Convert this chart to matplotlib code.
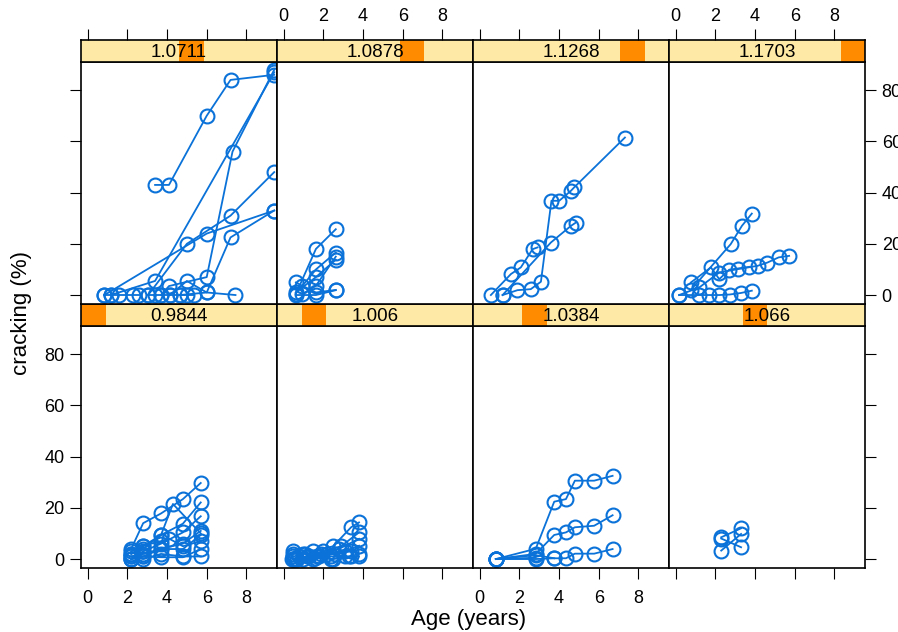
import numpy as np
import matplotlib.pyplot as plt
from matplotlib.patches import Rectangle

plt.rcParams['font.family'] = ['Liberation Sans', 'DejaVu Sans']

# shingle levels, panel order as lattice: bottom row left->right, then top row
levels = ['0.9844', '1.006', '1.0384', '1.066', '1.0711', '1.0878', '1.1268', '1.1703']
level_edges = [0, 1, 2, 3, 4, 5, 6, 7, 8]

# age (years) / cracking (%) per group, one list of paths per panel
ages_0984 = [[2.2, 2.8, 3.7, 4.8, 5.7], [2.2, 2.8, 3.7, 4.8, 5.7], [2.2, 2.8, 3.7, 4.8, 5.7],
             [2.2, 2.8, 3.7, 4.8, 5.7], [2.2, 2.8, 3.7, 4.8, 5.7], [2.2, 2.8, 3.7, 4.1, 4.8, 5.7],
             [2.2, 2.8, 3.7, 4.8, 5.7], [2.2, 2.8, 3.7, 4.8, 5.7], [2.2, 2.8, 3.7, 4.3, 5.7]]
crack_0984 = [[4, 14, 17.8, 23.4, 29.7], [2, 5, 9.4, 13.8, 22.1], [0, 3, 6, 10.4, 16.7],
              [1, 2, 4, 6, 11], [0, 1, 3.9, 3.9, 9.4], [3, 5.2, 7, 8, 5, 7],
              [0, 1, 0.7, 0.7, 3.9], [1, 0, 2, 1, 1], [2, 4, 9.4, 21.5, 10]]

ages_1006 = [[0.5, 1.5, 2.5, 3.4, 3.8], [0.6, 1.2, 2.0, 2.9, 3.8], [0.5, 1.0, 1.9, 2.8, 3.8],
             [0.45, 1.3, 2.2, 3.1, 3.8], [0.7, 1.5, 2.4, 3.4, 3.8], [0.5, 1.1, 1.8, 2.6, 3.4],
             [0.8, 1.6, 2.5, 3.3, 3.8], [0.5, 1.0, 1.7, 2.4, 3.1]]
crack_1006 = [[2, 3, 5, 12.4, 14.3], [0, 1, 3, 5, 10.4], [1, 2, 2, 4, 7.9],
              [0, 1, 2, 3, 5.2], [0, 0, 1, 1, 1], [3, 2, 1, 2, 3],
              [1, 0.5, 0, 1, 2], [0, 0, 1, 0, 1]]

ages_1038 = [[0.82, 2.83, 3.76, 4.35, 4.8, 5.77, 6.7], [0.82, 2.83, 3.76, 4.35, 4.8, 5.77, 6.7],
             [0.82, 2.83, 3.76, 4.35, 4.8, 5.77, 6.7], [0.82, 2.83], [0.82, 2.83, 3.76]]
crack_1038 = [[0, 4, 22.4, 23.4, 30.6, 30.6, 32.5], [0, 2, 9.4, 10.4, 12.4, 13, 17.1],
              [0, 0, 0.3, 0.3, 2.1, 2.1, 3.9], [0, 0.5], [0, 1.5, 0.3]]

ages_1066 = [[2.3, 3.3], [2.3, 3.3], [2.3, 3.3]]
crack_1066 = [[8.5, 12], [3.3, 9.8], [8, 4.6]]

ages_1071 = [[3.4, 4.1, 6.0, 7.2, 9.4], [3.05, 5.0, 7.2, 9.4], [0.85, 6.0, 9.4],
             [3.7, 4.1, 6.0, 7.3, 9.4], [1.17, 3.4, 9.4], [4.65, 6.0, 7.2, 9.4],
             [0.85, 1.17, 1.6, 2.3, 2.6], [3.05, 3.4, 3.7, 4.15, 4.65, 5.0, 5.35],
             [4.15, 5.0, 6.0, 7.45]]
crack_1071 = [[43, 43, 70, 84, 86], [0, 20, 31, 48], [0, 24, 33],
              [0, 3.5, 7, 56, 88], [0, 5.5, 87], [0, 1, 22.5, 33],
              [0, 0, 0, 0, 0], [0, 0, 0, 0, 0, 0, 0],
              [0, 5.5, 1, 0]]

ages_1088 = [[0.62, 1.63, 2.63], [0.95, 1.63, 2.63], [0.62, 1.63, 2.63],
             [0.62, 1.63, 2.63], [0.95, 1.63, 2.63], [0.62, 1.63, 2.63]]
crack_1088 = [[0.4, 18, 25.7], [3.6, 10, 16.6], [1, 7, 13.8],
              [0, 0, 1.9], [0.4, 3.6, 15], [4.9, 1, 2]]

ages_1127 = [[1.16, 1.91, 2.58, 3.09, 3.62, 4.01, 4.6, 4.76, 7.32],
             [0.57, 1.58, 2.08, 2.67, 2.92], [1.16, 3.59, 4.6, 4.85]]
crack_1127 = [[0, 1.9, 2.3, 5.2, 36.8, 36.8, 40.7, 42, 61.5],
              [0, 8.2, 10.8, 17.9, 18.6], [0, 20.5, 27, 28.3]]

ages_1170 = [[0.77, 2.78, 3.34, 3.84], [0.18, 1.2, 2.2, 3.12, 4.13, 4.63, 5.19, 5.72],
             [0.77, 1.78, 2.2, 2.7, 3.71], [0.18, 1.2, 1.7, 2.2, 2.72, 3.29, 3.84]]
crack_1170 = [[2, 19.9, 27, 31.8], [0, 3, 8.8, 10.1, 11.4, 12.7, 14.7, 15.3],
              [4.9, 10.8, 6.2, 9.9, 11], [0, 0, 0, 0, 0.2, 0.8, 1.7]]

panel_ages = [ages_0984, ages_1006, ages_1038, ages_1066, ages_1071, ages_1088, ages_1127, ages_1170]
panel_crack = [crack_0984, crack_1006, crack_1038, crack_1066, crack_1071, crack_1088, crack_1127, crack_1170]

x_ticks = [0, 2, 4, 6, 8]
y_ticks = [0, 20, 40, 60, 80]

blue = '#0a72d8'
strip_bg = '#ffe9a6'
strip_fg = '#ff8c00'

W, H = 898, 632
fig = plt.figure(figsize=(W / 100, H / 100), dpi=100)

# pixel geometry (top of strip, top of panel, bottom of panel) per row
rows_px = {0: (304, 326, 568), 1: (40, 62, 304)}
xlim = (-0.33, 9.54)
ylim = (-3.5, 91)
tick_kw = dict(direction='out', length=8, width=0.8, labelsize=13)

for k in range(8):
    row = 0 if k < 4 else 1
    col = k % 4
    s_top, p_top, p_bot = rows_px[row]
    left = (81 + 196 * col) / W
    width = 196 / W

    ax = fig.add_axes([left, (H - p_bot) / H, width, (p_bot - p_top) / H])
    for a, c in zip(panel_ages[k], panel_crack[k]):
        ax.plot(a, c, '-o', color=blue, mfc='none', mec=blue, ms=10, mew=1.5, lw=1.3)
    ax.set_xlim(xlim)
    ax.set_ylim(ylim)
    ax.set_xticks(x_ticks)
    ax.set_yticks(y_ticks)
    for sp in ax.spines.values():
        sp.set_linewidth(1.2)
    ax.tick_params(axis='x', bottom=(row == 0), labelbottom=(row == 0 and col in (0, 2)),
                   pad=8, **tick_kw)
    ax.tick_params(axis='y', left=(col == 0), labelleft=(col == 0 and row == 0),
                   right=(col == 3), labelright=(col == 3 and row == 1), pad=4, **tick_kw)

    # shingle strip
    sax = fig.add_axes([left, (H - p_top) / H, width, (p_top - s_top) / H])
    sax.set_facecolor(strip_bg)
    lo = (level_edges[k] - level_edges[0]) / (level_edges[-1] - level_edges[0])
    hi = (level_edges[k + 1] - level_edges[0]) / (level_edges[-1] - level_edges[0])
    sax.add_patch(Rectangle((lo, 0), hi - lo, 1, transform=sax.transAxes,
                            color=strip_fg, lw=0))
    sax.text(0.5, 0.42, levels[k], transform=sax.transAxes, ha='center', va='center',
             fontsize=13.5)
    sax.set_xlim(xlim)
    sax.set_yticks([])
    for sp in sax.spines.values():
        sp.set_linewidth(1.2)
    if row == 1:
        sax.set_xticks(x_ticks)
        sax.tick_params(axis='x', bottom=False, labelbottom=False, top=True,
                        labeltop=(col in (1, 3)), pad=3, **tick_kw)
    else:
        sax.set_xticks([])

fig.text(22 / W, 1 - 313 / H, 'cracking (%)', rotation=90, ha='center', va='center', fontsize=16)
fig.text(469 / W, 1 - 620 / H, 'Age (years)', ha='center', va='center', fontsize=16)

fig.savefig('out.png', dpi=100)
